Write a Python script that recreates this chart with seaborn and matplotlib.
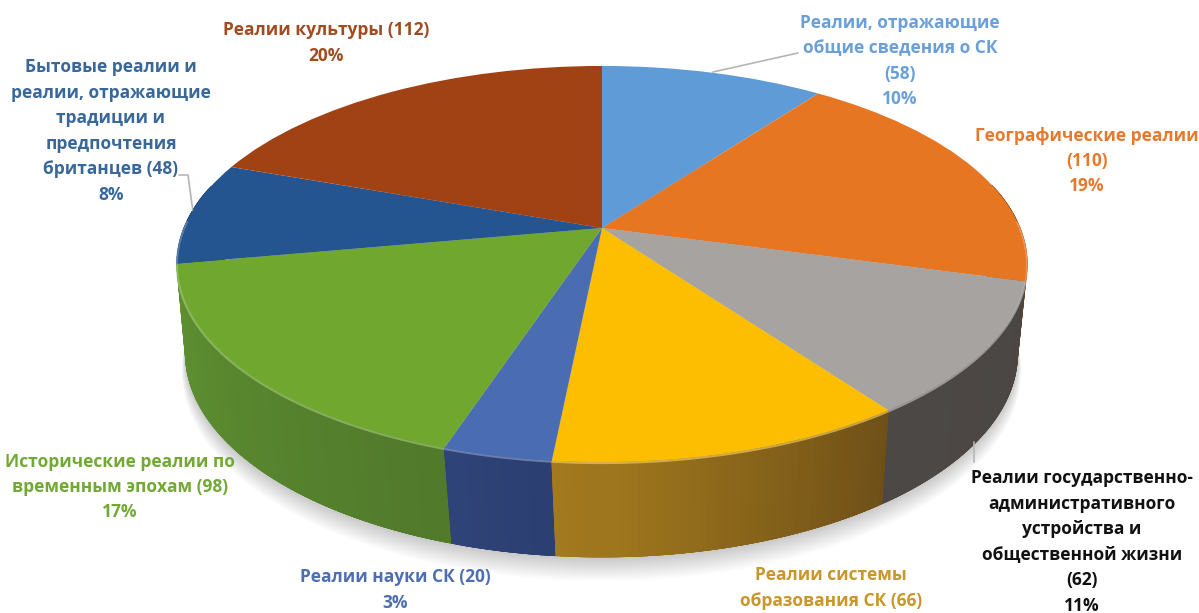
#!/usr/bin/env python3
# -*- coding: utf-8 -*-
"""3D pie: realia categories"""
import numpy as np
import matplotlib
matplotlib.use("Agg")
import matplotlib.pyplot as plt
import matplotlib.colors as mcolors
from matplotlib.transforms import Transform
import seaborn as sns

counts = [58, 110, 62, 66, 20, 98, 48, 112]
# the yellow slice shows no percent in the picture, its last line is off the bottom
percents = [10, 19, 11, None, 3, 17, 8, 20]
names = [
    "Реалии, отражающие\nобщие сведения о СК\n(58)",
    "Географические реалии\n(110)",
    "Реалии государственно-\nадминистративного\nустройства и\nобщественной жизни\n(62)",
    "Реалии системы\nобразования СК (66)",
    "Реалии науки СК (20)",
    "Исторические реалии по\nвременным эпохам (98)",
    "Бытовые реалии и\nреалии, отражающие\nтрадиции и\nпредпочтения\nбританцев (48)",
    "Реалии культуры (112)",
]
top_colors = ["#5f9bd6", "#e67621", "#a6a3a1", "#fdbd00", "#4a6cb2", "#70a82f", "#255590", "#a04214"]
wall_right = ["#3d6a96", "#8f4a16", "#4b4643", "#6c4e17", "#2c3f73", "#517a2b", "#1a3c66", "#6e2e0e"]
wall_left = ["#3d6a96", "#8f4a16", "#4c4845", "#a67c1e", "#2f4479", "#5f9232", "#1a3c66", "#6e2e0e"]
text_colors = ["#6a9fd8", "#e57a2e", "#111111", "#c8962a", "#4f6eb0", "#72a935", "#38679a", "#a14c20"]
# label centre (x, y) in picture pixels, one per slice
label_pos = [(900, 61), (1087, 161), (1082, 542), (831, 588), (395, 590), (120, 487), (111, 131), (326, 43)]
leaders = [
    ([713, 798], [72, 53]),
    ([974, 974], [442, 462]),
    ([179, 188, 193], [175, 175, 212]),
]


class Perspective(Transform):
    """unit disc -> picture pixels, near edge of the disc larger"""
    input_dims = output_dims = 2
    has_inverse = False

    def __init__(self, cx, cy, rx, ry, c):
        super().__init__()
        self.p = (cx, cy, rx, ry, c)

    def transform_non_affine(self, values):
        cx, cy, rx, ry, c = self.p
        values = np.asarray(values, dtype=float)
        d = 1 + c * values[:, 1]
        return np.column_stack([cx + rx * values[:, 0] / d, cy - ry * values[:, 1] / d])


top_rim = Perspective(602, 228, 418, 191.5, 0.1818)
low_rim = Perspective(601.5, 333, 414, 201.6, 0.1)


def disc(theta_deg, r=1.0):
    t = np.radians(theta_deg)
    return np.column_stack([r * np.cos(t), r * np.sin(t)])


def low_angle(theta_deg):
    # seams on the wall lean a little less than the lower rim would make them
    return -95 + (np.asarray(theta_deg) + 95) * 1.07


sns.set_theme(style="white")
plt.rcParams["font.family"] = ["Open Sans", "DejaVu Sans"]

fig = plt.figure(figsize=(11.99, 6.13), dpi=100)
ax = fig.add_axes([0, 0, 1, 1])

wedges, _ = ax.pie(
    counts, startangle=90, counterclock=False, colors=sns.color_palette(top_colors),
    wedgeprops={"transform": top_rim + ax.transData, "linewidth": 0, "zorder": 5},
)
ax.set_aspect("auto")
ax.set_xlim(0, 1199)
ax.set_ylim(613, 0)
ax.axis("off")

# soft shadow under the body
ring = np.linspace(0, 360, 361)
for k in range(18, 0, -1):
    grown = Perspective(601.5, 333 + k * 1.0, 414 + k * 0.2, 201.6 + k * 0.3, 0.1).transform(disc(ring))
    ax.fill(grown[:, 0], grown[:, 1], color="#000000", alpha=0.010, lw=0, zorder=1)

# side wall, far strips first so the near ones sit on top
strips = []
for w, c_r, c_l in zip(wedges, wall_right, wall_left):
    steps = max(int(w.theta2 - w.theta1), 2)
    edges = np.linspace(w.theta1, w.theta2, steps + 1)
    pad = 1.5 * (edges[1] - edges[0])
    for i in range(steps):
        if np.sin(np.radians(edges[i])) > 0.2 and np.sin(np.radians(edges[i + 1])) > 0.2:
            continue
        frac = (i + 0.5) / steps
        # theta2 is the right end of a near slice
        col = np.array(mcolors.to_rgb(c_l)) * (1 - frac) + np.array(mcolors.to_rgb(c_r)) * frac
        # strips overlap inside the slice so no white shows between them
        strips.append((max(edges[i] - pad, w.theta1), min(edges[i + 1] + pad, w.theta2), col, i))
# each slice paints left to right, near slices after far ones
order = sorted(strips, key=lambda s: -np.sin(np.radians(0.5 * (s[0] + s[1]))))
for a, b, col, _i in order:
    arc = np.linspace(a, b, 5)
    up = top_rim.transform(disc(arc))
    lo = low_rim.transform(disc(low_angle(arc)))[::-1]
    ax.fill(np.r_[up[:, 0], lo[:, 0]], np.r_[up[:, 1], lo[:, 1]], color=col, lw=0.5, zorder=2)

# light bevel along the near rim
for w, col in zip(wedges, top_colors):
    arc = np.linspace(w.theta1, w.theta2, 60)
    arc = arc[np.sin(np.radians(arc)) < 0.05]
    if len(arc) < 2:
        continue
    pts = top_rim.transform(disc(arc))
    light = tuple(0.6 * np.array(mcolors.to_rgb(col)) + 0.4)
    ax.plot(pts[:, 0], pts[:, 1] + 1, color=light, lw=1.5, alpha=0.6, zorder=6, solid_capstyle="butt")

for xs, ys in leaders:
    ax.plot(xs, ys, color="#b5b5b5", lw=1.2, zorder=3)

for name, pct, col, (x, y) in zip(names, percents, text_colors, label_pos):
    label = name if pct is None else f"{name}\n{pct}%"
    ax.text(x, y, label, color=col, ha="center", va="center", fontsize=12.5,
            fontweight="bold", linespacing=1.53, zorder=8)

fig.savefig("out.png", dpi=100)
